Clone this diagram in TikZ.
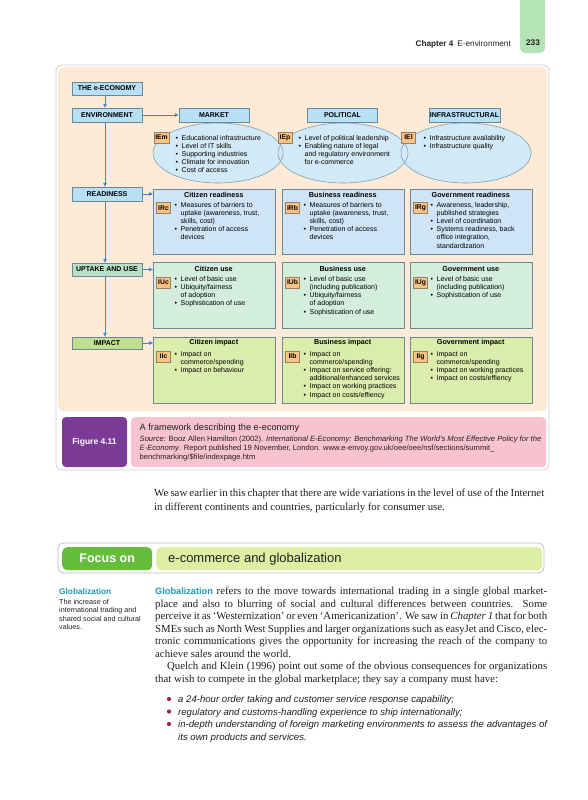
\documentclass[tikz,border=0pt]{standalone}
\usepackage{fontspec}
\setmainfont{Liberation Serif}
\setsansfont{Liberation Sans}
\usetikzlibrary{arrows.meta,shapes.geometric}
\definecolor{beige}{HTML}{FDEBD7}
\definecolor{hblue}{HTML}{B7E0F4}
\definecolor{hborder}{HTML}{6E8796}
\definecolor{ellfill}{HTML}{D2EAF7}
\definecolor{ellborder}{HTML}{7FA0B5}
\definecolor{rfill}{HTML}{CFE4F6}
\definecolor{ufill}{HTML}{D3EEDD}
\definecolor{uptfill}{HTML}{B8E0C6}
\definecolor{ifill}{HTML}{DAEDAB}
\definecolor{impfill}{HTML}{BFE08E}
\definecolor{lorange}{HTML}{F8C384}
\definecolor{lborder}{HTML}{9C7E60}
\definecolor{ablue}{HTML}{3C88CF}
\definecolor{figpurple}{HTML}{7B3A96}
\definecolor{figpink}{HTML}{F8C3D1}
\definecolor{focgreen}{HTML}{66BD3B}
\definecolor{foclight}{HTML}{DDEFA3}
\definecolor{tealc}{HTML}{1A9AB5}
\definecolor{dotcol}{HTML}{A0225A}
\definecolor{tabgreen}{HTML}{B4E3B6}
\definecolor{txt}{HTML}{231F20}
\newcommand\fs[2]{\fontsize{#1}{#2}\selectfont}
\newcommand\bu{\makebox[6pt][l]{\textbullet}}
\newcommand\ind{\hspace*{6pt}}
\newcommand\jl[2]{\makebox[#1pt][s]{\spaceskip=0.25em plus 1em minus 0.1em\relax #2}}
\begin{document}
\begin{tikzpicture}[x=1pt,y=-1pt,
  hdr/.style={draw=hborder,fill=hblue,line width=0.5pt,minimum width=70,minimum height=14,inner sep=0,font=\sffamily\bfseries\fs{7}{8}},
  lbl/.style={draw=lborder,fill=lorange,line width=0.5pt,minimum width=14,minimum height=11,inner sep=0,font=\sffamily\bfseries\fs{6.8}{8}},
  ttl/.style={inner sep=0,font=\sffamily\bfseries\fs{7.2}{8}},
  lst/.style={inner sep=0,align=left,anchor=north west,font=\sffamily\fs{7}{8.2}},
  cbox/.style={draw=hborder,line width=0.5pt,minimum width=121.5,inner sep=0,anchor=north west},
  ell/.style={ellipse,minimum width=130,minimum height=60,inner sep=0},
  arr/.style={draw=ablue,line width=0.8pt,-{Triangle[length=4pt,width=3.6pt]}},
  body/.style={inner sep=0,anchor=base west,font=\fs{10.8}{12.5},text=txt},
  btl/.style={inner sep=0,anchor=base west,font=\sffamily\itshape\fs{9.6}{11},text=txt},
  dot/.style={circle,fill=dotcol,minimum size=4.2,inner sep=0}]
\useasboundingbox (0,0) rectangle (588,800);
\fill[white] (0,0) rectangle (588,800);
% page header
\fill[tabgreen,rounded corners=5] (520,-10) rectangle (545,53);
\node[inner sep=0,anchor=base,font=\sffamily\bfseries\fs{8.2}{10},text=txt] (pg) at (533,46) {233};
\node[inner sep=0,anchor=base east,font=\sffamily\fs{8.2}{10},text=txt] (chap) at (511,46.5) {\textbf{Chapter 4}\hspace{4pt}E-environment};
% panels
\draw[draw=black!20,line width=0.8pt,fill=white,rounded corners=6] (56,65) rectangle (549,470);
\fill[beige,rounded corners=6] (58,67) rectangle (547,411);
% left column
\coordinate (vx) at (105,0);
\node[hdr,minimum height=13] (eco) at (107,88.5) {THE e-ECONOMY};
\node[hdr] (env) at (107,115) {ENVIRONMENT};
\node[hdr] (rea) at (107,194) {READINESS};
\node[hdr,fill=uptfill,minimum height=13] (upt) at (107,269.5) {UPTAKE AND USE};
\node[hdr,fill=impfill,minimum height=12] (imp) at (107,343) {IMPACT};
% ellipses
\node[ell,fill=ellfill] (em) at (218,153) {};
\node[ell,fill=ellfill] (ep) at (343,153) {};
\node[ell,fill=ellfill] (ei) at (466,153) {};
\node[ell,draw=ellborder,line width=0.6pt] (emo) at (218,153) {};
\node[ell,draw=ellborder,line width=0.6pt] (epo) at (343,153) {};
\node[ell,draw=ellborder,line width=0.6pt] (eio) at (466,153) {};
\node[hdr] (mkt) at (214,115) {MARKET};
\node[hdr] (pol) at (342.5,115) {POLITICAL};
\node[hdr,minimum width=71] (inf) at (464.5,115.5) {INFRASTRUCTURAL};
\node[lbl,minimum width=15] (iem) at (161.5,137.5) {IEm};
\node[lbl] (iep) at (285,137.5) {IEp};
\node[lbl] (iel) at (408.5,137.5) {IEl};
\node[lst] (lm) at (175.5,134.9) {\bu Educational infrastructure\\ \bu Level of IT skills\\ \bu Supporting industries\\ \bu Climate for innovation\\ \bu Cost of access};
\node[lst] (lp) at (298.5,134.9) {\bu Level of political leadership\\ \bu Enabling nature of legal\\ \ind and regulatory environment\\ \ind for e-commerce};
\node[lst] (li) at (423.5,134.9) {\bu Infrastructure availability\\ \bu Infrastructure quality};
% readiness
\node[cbox,fill=rfill,minimum height=65] (rc) at (153,189) {};
\node[cbox,fill=rfill,minimum height=65] (rb) at (282,189) {};
\node[cbox,fill=rfill,minimum height=65] (rg) at (410,189) {};
\node[ttl] (rct) at (213.75,195) {Citizen readiness};
\node[ttl] (rbt) at (342.75,195) {Business readiness};
\node[ttl] (rgt) at (470.75,195) {Government readiness};
\node[lbl] (irc) at (163.5,208) {IRc};
\node[lbl] (irb) at (292.5,208) {IRb};
\node[lbl] (irg) at (420.5,208) {IRg};
\node[lst] (lrc) at (174.5,201.9) {\bu Measures of barriers to\\ \ind uptake (awareness, trust,\\ \ind skills, cost)\\ \bu Penetration of access\\ \ind devices};
\node[lst] (lrb) at (303.5,201.9) {\bu Measures of barriers to\\ \ind uptake (awareness, trust,\\ \ind skills, cost)\\ \bu Penetration of access\\ \ind devices};
\node[lst] (lrg) at (430.5,201.9) {\bu Awareness, leadership,\\ \ind published strategies\\ \bu Level of coordination\\ \bu Systems readiness, back\\ \ind office integration,\\ \ind standardization};
% use
\node[cbox,fill=ufill,minimum height=66] (uc) at (153,262) {};
\node[cbox,fill=ufill,minimum height=66] (ub) at (282,262) {};
\node[cbox,fill=ufill,minimum height=66] (ug) at (410,262) {};
\node[ttl] (uct) at (213.75,269) {Citizen use};
\node[ttl] (ubt) at (342.75,269) {Business use};
\node[ttl] (ugt) at (470.75,269) {Government use};
\node[lbl] (iuc) at (163.5,282.5) {IUc};
\node[lbl] (iub) at (292.5,282.5) {IUb};
\node[lbl] (iug) at (420.5,282.5) {IUg};
\node[lst] (luc) at (174.5,276) {\bu Level of basic use\\ \bu Ubiquity/fairness\\ \ind of adoption\\ \bu Sophistication of use};
\node[lst] (lub) at (303.5,276) {\bu Level of basic use\\ \ind (including publication)\\ \bu Ubiquity/fairness\\ \ind of adoption\\ \bu Sophistication of use};
\node[lst] (lug) at (430.5,276) {\bu Level of basic use\\ \ind (including publication)\\ \bu Sophistication of use};
% impact
\node[cbox,fill=ifill,minimum height=66] (ic) at (153,337) {};
\node[cbox,fill=ifill,minimum height=66] (ib) at (282,337) {};
\node[cbox,fill=ifill,minimum height=66] (ig) at (410,337) {};
\node[ttl] (ict) at (213.75,343) {Citizen impact};
\node[ttl] (ibt) at (342.75,343) {Business impact};
\node[ttl] (igt) at (470.75,343) {Government impact};
\node[lbl] (iic) at (163.5,356.5) {IIc};
\node[lbl] (iib) at (292.5,356.5) {IIb};
\node[lbl] (iig) at (420.5,356.5) {IIg};
\node[lst] (lic) at (174.5,351) {\bu Impact on\\ \ind commerce/spending\\ \bu Impact on behaviour};
\node[lst] (lib) at (303.5,351) {\bu Impact on\\ \ind commerce/spending\\ \bu Impact on service offering:\\ \ind additional/enhanced services\\ \bu Impact on working practices\\ \bu Impact on costs/effiency};
\node[lst] (lig) at (430.5,351) {\bu Impact on\\ \ind commerce/spending\\ \bu Impact on working practices\\ \bu Impact on costs/effiency};
% arrows
\draw[arr] (eco.south -| vx) -- (env.north -| vx);
\draw[arr] (env.south -| vx) -- (rea.north -| vx);
\draw[arr] (rea.south -| vx) -- (upt.north -| vx);
\draw[arr] (upt.south -| vx) -- (imp.north -| vx);
\draw[arr] (env.east) -- (mkt.west);
\draw[arr] (rea.east) -- (rea.east -| rc.west);
\draw[arr] (upt.east) -- (upt.east -| uc.west);
\draw[arr] (imp.east) -- (imp.east -| ic.west);
% caption
\node[fill=figpurple,rounded corners=4,minimum width=65,minimum height=50,inner sep=0,text=white,font=\sffamily\bfseries\fs{8.5}{10}] (fig) at (94.5,442) {Figure 4.11};
\node[fill=figpink,rounded corners=4,minimum width=415,minimum height=50,inner sep=0,anchor=north west] (capbox) at (131,417) {};
\node[inner sep=0,anchor=base west,font=\sffamily\fs{9.2}{10},text=txt] (capt) at (139.5,430.2) {A framework describing the e-economy};
\node[inner sep=0,anchor=base west,font=\sffamily\fs{7.6}{9},text=txt] (src1) at (139.5,441) {\textit{Source:} Booz Allen Hamilton (2002). \textit{International E-Economy: Benchmarking The World's Most Effective Policy for the}};
\node[inner sep=0,anchor=base west,font=\sffamily\fs{7.6}{9},text=txt] (src2) at (139.5,450) {\textit{E-Economy}. Report published 19 November, London. www.e-envoy.gov.uk/oee/oee/nsf/sections/summit\_};
\node[inner sep=0,anchor=base west,font=\sffamily\fs{7.6}{9},text=txt] (src3) at (139.5,459) {benchmarking/\$file/indexpage.htm};
% body text
\node[body] (w1) at (154,496.5) {\jl{390}{We saw earlier in this chapter that there are wide variations in the level of use of the Internet}};
\node[body] (w2) at (154,510) {in different continents and countries, particularly for consumer use.};
% focus box
\draw[draw=black!25,line width=0.8pt,fill=white,rounded corners=6] (58,543) rectangle (544,573);
\node[fill=focgreen,rounded corners=5,minimum width=90,minimum height=23,inner sep=0,anchor=north west,text=white,font=\sffamily\bfseries\fs{12.5}{14}] (foc) at (62,547) {Focus on};
\node[fill=foclight,rounded corners=5,minimum width=386,minimum height=23,inner sep=0,anchor=north west] (focl) at (156,547) {};
\node[inner sep=0,anchor=base west,font=\sffamily\fs{13}{15},text=txt] (foct) at (168,562.5) {e-commerce and globalization};
% margin note
\node[inner sep=0,anchor=base west,font=\sffamily\bfseries\fs{8.3}{10},text=tealc] (mg) at (59,594.5) {Globalization};
\node[inner sep=0,anchor=north west,align=left,font=\sffamily\fs{7.2}{8.5},text=txt] (mgt) at (59,598.7) {The increase of\\ international trading and\\ shared social and cultural\\ values.};
% paragraph
\node[body] (g1) at (155,594.5) {\jl{392}{{\sffamily\bfseries\fs{9.2}{11}\color{tealc}Globalization} refers to the move towards international trading in a single global market-}};
\node[body] (g2) at (155,607) {\jl{392}{place and also to blurring of social and cultural differences between countries. Some}};
\node[body] (g3) at (155,619.5) {\jl{392}{perceive it as `Westernization' or even `Americanization'. We saw in \textit{Chapter 1} that for both}};
\node[body] (g4) at (155,632) {\jl{392}{SMEs such as North West Supplies and larger organizations such as easyJet and Cisco, elec-}};
\node[body] (g5) at (155,644.5) {\jl{392}{tronic communications gives the opportunity for increasing the reach of the company to}};
\node[body] (g6) at (155,657) {achieve sales around the world.};
\node[body] (g7) at (167,669.5) {\jl{380}{Quelch and Klein (1996) point out some of the obvious consequences for organizations}};
\node[body] (g8) at (155,682) {that wish to compete in the global marketplace; they say a company must have:};
% bullets
\node[dot] (d1) at (169,699) {};
\node[dot] (d2) at (169,711.5) {};
\node[dot] (d3) at (169,724) {};
\node[btl] (b1) at (178,702.5) {a 24-hour order taking and customer service response capability;};
\node[btl] (b2) at (178,715) {regulatory and customs-handling experience to ship internationally;};
\node[btl] (b3) at (178,727.5) {\jl{369}{in-depth understanding of foreign marketing environments to assess the advantages of}};
\node[btl] (b4) at (178,740) {its own products and services.};
\end{tikzpicture}
\end{document}
